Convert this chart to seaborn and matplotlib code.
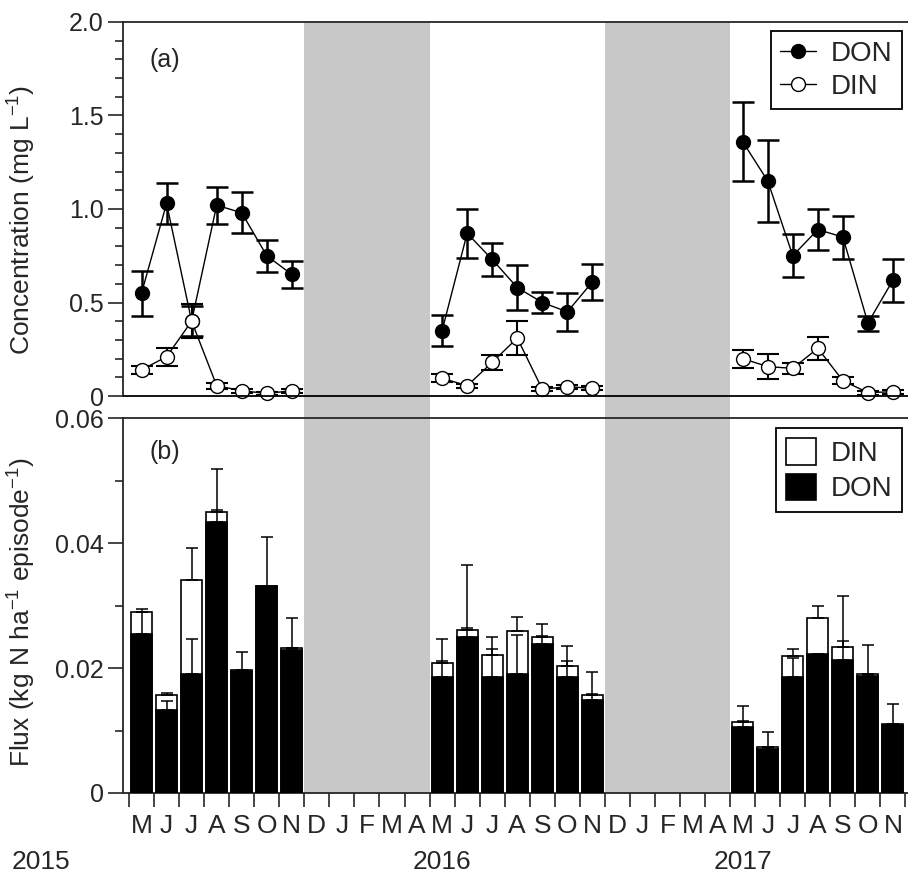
import numpy as np
import pandas as pd
import seaborn as sns
import matplotlib
import matplotlib.pyplot as plt
from matplotlib.lines import Line2D
from matplotlib.patches import Patch
from matplotlib.ticker import FixedLocator

# x axis: May 2015 .. Nov 2017, one slot per month
month_letters = ['M', 'J', 'J', 'A', 'S', 'O', 'N', 'D', 'J', 'F', 'M', 'A'] * 2 + ['M', 'J', 'J', 'A', 'S', 'O', 'N']
years = ['2015', '2016', '2017']
sampled = [0, 1, 2, 3, 4, 5, 6]  # May..Nov within each year

# (a) concentration, mg L-1
don = [0.55, 1.03, 0.40, 1.02, 0.98, 0.75, 0.65,
       0.35, 0.87, 0.73, 0.58, 0.50, 0.45, 0.61,
       1.36, 1.15, 0.75, 0.89, 0.85, 0.39, 0.62]
don_err = [0.12, 0.11, 0.08, 0.10, 0.11, 0.085, 0.07,
           0.085, 0.13, 0.09, 0.12, 0.055, 0.10, 0.095,
           0.21, 0.22, 0.115, 0.11, 0.115, 0.04, 0.115]
din = [0.14, 0.21, 0.40, 0.055, 0.028, 0.014, 0.028,
       0.095, 0.055, 0.18, 0.31, 0.036, 0.05, 0.041,
       0.20, 0.157, 0.148, 0.255, 0.082, 0.018, 0.023]
din_err = [0.02, 0.048, 0.09, 0.015, 0.01, 0.008, 0.01,
           0.02, 0.01, 0.04, 0.09, 0.01, 0.01, 0.01,
           0.048, 0.065, 0.03, 0.06, 0.02, 0.01, 0.01]

# (b) flux, kg N ha-1 episode-1
flux_don = [0.0254, 0.0133, 0.0190, 0.0433, 0.0196, 0.0331, 0.0229,
            0.0185, 0.0249, 0.0186, 0.0190, 0.0238, 0.0185, 0.0149,
            0.0105, 0.0070, 0.0186, 0.0222, 0.0213, 0.0187, 0.0109]
flux_din = [0.0036, 0.0024, 0.0151, 0.0016, 0.0001, 0.0001, 0.0003,
            0.0023, 0.0012, 0.0035, 0.0069, 0.0011, 0.0019, 0.0008,
            0.0009, 0.0004, 0.0034, 0.0058, 0.0020, 0.0003, 0.0001]
flux_don_err = [0.0036, 0.0014, 0.0056, 0.0020, 0.0029, 0.0079, 0.0051,
                0.0026, 0.0015, 0.0044, 0.0063, 0.0014, 0.0026, 0.0010,
                0.0010, 0.0004, 0.0030, 0.0, 0.0031, 0.0050, 0.0034]
flux_tot_err = [0.0005, 0.0003, 0.0051, 0.0069, 0.0, 0.0, 0.0,
                0.0039, 0.0104, 0.0029, 0.0022, 0.0021, 0.0032, 0.0036,
                0.0026, 0.0023, 0.0010, 0.0020, 0.0083, 0.0, 0.0]

df = pd.DataFrame({
    'year': np.repeat(years, len(sampled)),
    'pos': [12 * i + m for i in range(len(years)) for m in sampled],
    'don': don, 'don_err': don_err, 'din': din, 'din_err': din_err,
    'fdon': flux_don, 'fdin': flux_din,
    'fdon_err': flux_don_err, 'ftot_err': flux_tot_err,
})
df['ftot'] = df['fdon'] + df['fdin']

sns.set_style('ticks')
plt.rcParams['font.family'] = ['Liberation Sans', 'DejaVu Sans']
plt.rcParams['mathtext.fontset'] = 'custom'
plt.rcParams['mathtext.rm'] = 'Liberation Sans'
plt.rcParams['mathtext.it'] = 'Liberation Sans'
plt.rcParams['axes.linewidth'] = 1.3

fig = plt.figure(figsize=(9.08, 8.84), dpi=100)
W, H = 908, 884
left = 123 / W
ax1 = fig.add_axes([left, 1 - 418 / H, 1 - left, (418 - 22) / H])
ax2 = fig.add_axes([left, 1 - 793 / H, 1 - left, (793 - 418) / H])

xlim = (-0.74, 30.6)
gray = '#c8c8c8'
for ax in (ax1, ax2):
    ax.set_xlim(*xlim)
    ax.axvspan(6.5, 11.5, color=gray, lw=0, zorder=0)
    ax.axvspan(18.5, 23.5, color=gray, lw=0, zorder=0)
    ax.spines['right'].set_visible(False)
    ax.tick_params(axis='y', which='major', direction='out', length=11, width=1.2, labelsize=18, pad=3)
    ax.tick_params(axis='y', which='minor', direction='out', length=6, width=1.2)

# ---- (a) concentrations
ax1.errorbar(df['pos'], df['don'], yerr=df['don_err'], fmt='none', ecolor='k',
             elinewidth=1.8, capsize=8, capthick=1.8, zorder=3)
sns.lineplot(data=df, x='pos', y='don', units='year', estimator=None, ax=ax1,
             color='k', lw=1.0, marker='o', markersize=10, markerfacecolor='k',
             markeredgecolor='k', markeredgewidth=1.0, zorder=4)
ax1.errorbar(df['pos'], df['din'], yerr=df['din_err'], fmt='none', ecolor='k',
             elinewidth=1.5, capsize=8, capthick=1.5, zorder=5)
sns.lineplot(data=df, x='pos', y='din', units='year', estimator=None, ax=ax1,
             color='k', lw=1.0, marker='o', markersize=10, markerfacecolor='white',
             markeredgecolor='k', markeredgewidth=1.0, zorder=6)
ax1.axhline(0, color='k', lw=1.3, zorder=7)
ax1.set_ylim(-22 / 187, 2.0)
ax1.spines['bottom'].set_visible(False)
ax1.spines['left'].set_bounds(0, 2.0)
ax1.set_yticks([0, 0.5, 1.0, 1.5, 2.0])
ax1.set_yticklabels(['0', '0.5', '1.0', '1.5', '2.0'])
ax1.yaxis.set_minor_locator(FixedLocator(np.arange(0, 2.01, 0.1)))
ax1.set_xticks([])
ax1.set_xlabel('')
ax1.set_ylabel('Concentration (mg L$^{-1}$)', fontsize=19)
ax1.yaxis.set_label_coords(-0.108, 0.5)
ax1.text(0.034, 0.905, '(a)', transform=ax1.transAxes, fontsize=18, ha='left', va='center')

h1 = [Line2D([], [], color='k', lw=1.0, marker='o', markersize=10, markerfacecolor='k', markeredgecolor='k'),
      Line2D([], [], color='k', lw=1.0, marker='o', markersize=10, markerfacecolor='white', markeredgecolor='k')]
leg1 = ax1.legend(h1, ['DON', 'DIN'], loc='upper right', bbox_to_anchor=(0.992, 0.977),
                  borderaxespad=0, fancybox=False, edgecolor='k', framealpha=1,
                  fontsize=20, handlelength=1.3, handletextpad=0.5, labelspacing=0.25,
                  borderpad=0.35)
leg1.get_frame().set_linewidth(1.3)

# ---- (b) fluxes
sns.barplot(data=df, x='pos', y='ftot', native_scale=True, width=0.84, ax=ax2,
            color='white', edgecolor='k', linewidth=1.2, errorbar=None, saturation=1, zorder=2)
sns.barplot(data=df, x='pos', y='fdon', native_scale=True, width=0.84, ax=ax2,
            color='black', edgecolor='k', linewidth=1.2, errorbar=None, saturation=1, zorder=3)
zeros = np.zeros(len(df))
ax2.errorbar(df['pos'], df['fdon'], yerr=[zeros, df['fdon_err']], fmt='none', ecolor='k',
             elinewidth=1.1, capsize=4, capthick=1.1, zorder=4)
ax2.errorbar(df['pos'], df['ftot'], yerr=[zeros, df['ftot_err']], fmt='none', ecolor='k',
             elinewidth=1.1, capsize=4, capthick=1.1, zorder=4)
ax2.set_xlim(*xlim)
ax2.set_ylim(0, 0.06)
ax2.set_yticks([0, 0.02, 0.04, 0.06])
ax2.set_yticklabels(['0', '0.02', '0.04', '0.06'])
ax2.yaxis.set_minor_locator(FixedLocator([0.01, 0.03, 0.05]))
ax2.set_xticks(np.arange(-0.5, 31, 1.0))
ax2.set_xticklabels([])
ax2.set_xticks(np.arange(0, 31), minor=True)
ax2.set_xticklabels(month_letters, minor=True)
ax2.tick_params(axis='x', which='major', direction='out', length=10, width=1.2)
ax2.tick_params(axis='x', which='minor', length=0, labelsize=19, pad=15)
ax2.set_xlabel('')
ax2.set_ylabel('Flux (kg N ha$^{-1}$ episode$^{-1}$)', fontsize=19)
ax2.yaxis.set_label_coords(-0.108, 0.483)
ax2.text(0.034, 0.909, '(b)', transform=ax2.transAxes, fontsize=18, ha='left', va='center')

for yr, xpos in zip(years, [-4.0, 12.0, 24.0]):
    ax2.text(xpos, -0.184, yr, transform=ax2.get_xaxis_transform(), fontsize=19,
             ha='center', va='center', clip_on=False)

h2 = [Patch(facecolor='white', edgecolor='k', lw=1.2), Patch(facecolor='black', edgecolor='k', lw=1.2)]
leg2 = ax2.legend(h2, ['DIN', 'DON'], loc='upper right', bbox_to_anchor=(0.992, 0.973),
                  borderaxespad=0, fancybox=False, edgecolor='k', framealpha=1,
                  fontsize=20, handlelength=1.1, handleheight=1.1, handletextpad=0.5,
                  labelspacing=0.25, borderpad=0.35)
leg2.get_frame().set_linewidth(1.3)

fig.savefig('out.png', dpi=100)
